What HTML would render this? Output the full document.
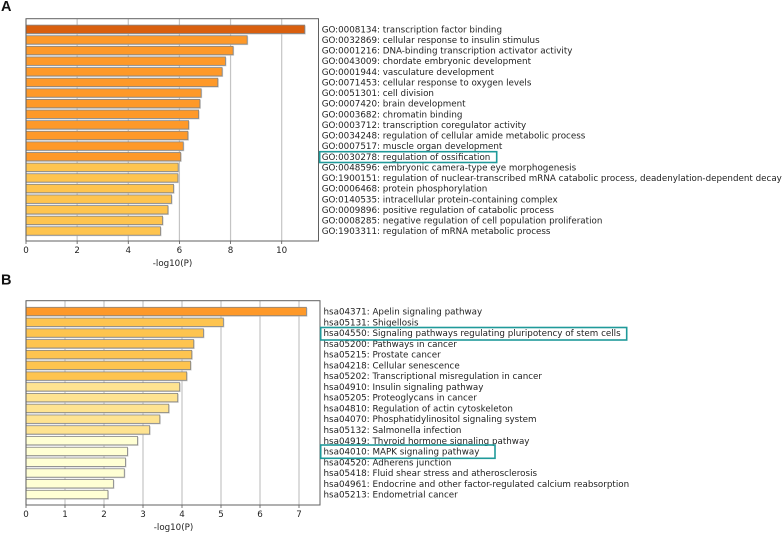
<!DOCTYPE html>
<html>
<head>
<meta charset="utf-8">
<style>
html,body{margin:0;padding:0;background:#fff;width:783px;height:533px;overflow:hidden}
svg{display:block;font-family:"DejaVu Sans","Liberation Sans",sans-serif;filter:blur(0.35px)}
svg text{fill:#222}
</style>
</head>
<body>
<svg id="chart" width="783" height="533" viewBox="0 0 783 533" xmlns="http://www.w3.org/2000/svg"></svg>
<script>
const goLabels = [
"GO:0008134: transcription factor binding",
"GO:0032869: cellular response to insulin stimulus",
"GO:0001216: DNA-binding transcription activator activity",
"GO:0043009: chordate embryonic development",
"GO:0001944: vasculature development",
"GO:0071453: cellular response to oxygen levels",
"GO:0051301: cell division",
"GO:0007420: brain development",
"GO:0003682: chromatin binding",
"GO:0003712: transcription coregulator activity",
"GO:0034248: regulation of cellular amide metabolic process",
"GO:0007517: muscle organ development",
"GO:0030278: regulation of ossification",
"GO:0048596: embryonic camera-type eye morphogenesis",
"GO:1900151: regulation of nuclear-transcribed mRNA catabolic process, deadenylation-dependent decay",
"GO:0006468: protein phosphorylation",
"GO:0140535: intracellular protein-containing complex",
"GO:0009896: positive regulation of catabolic process",
"GO:0008285: negative regulation of cell population proliferation",
"GO:1903311: regulation of mRNA metabolic process"
];
const goValues = [10.9,8.65,8.1,7.8,7.67,7.5,6.85,6.8,6.75,6.36,6.33,6.15,6.05,5.95,5.94,5.77,5.69,5.55,5.34,5.26];
const goLevels = [3,2,2,2,2,2,2,2,2,2,2,2,2,1,1,1,1,1,1,1];
const goTicks = [0,2,4,6,8,10];

const keggLabels = [
"hsa04371: Apelin signaling pathway",
"hsa05131: Shigellosis",
"hsa04550: Signaling pathways regulating pluripotency of stem cells",
"hsa05200: Pathways in cancer",
"hsa05215: Prostate cancer",
"hsa04218: Cellular senescence",
"hsa05202: Transcriptional misregulation in cancer",
"hsa04910: Insulin signaling pathway",
"hsa05205: Proteoglycans in cancer",
"hsa04810: Regulation of actin cytoskeleton",
"hsa04070: Phosphatidylinositol signaling system",
"hsa05132: Salmonella infection",
"hsa04919: Thyroid hormone signaling pathway",
"hsa04010: MAPK signaling pathway",
"hsa04520: Adherens junction",
"hsa05418: Fluid shear stress and atherosclerosis",
"hsa04961: Endocrine and other factor-regulated calcium reabsorption",
"hsa05213: Endometrial cancer"
];
const keggValues = [7.19,5.06,4.55,4.3,4.25,4.22,4.12,3.94,3.89,3.66,3.43,3.17,2.86,2.6,2.55,2.52,2.24,2.1];
const keggLevels = [2,1,1,1,1,1,1,0,0,0,0,0,-1,-1,-1,-1,-1,-1];
const keggTicks = [0,1,2,3,4,5,6,7];

const levelColors = {"3":"#d95f0e","2":"#fe9929","1":"#fec44f","0":"#fee391","-1":"#ffffd4"};
const svg = document.getElementById('chart');
const NS = 'http://www.w3.org/2000/svg';

function mk(tag, attrs, parent, text) {
  const el = document.createElementNS(NS, tag);
  for (const k in attrs) el.setAttribute(k, attrs[k]);
  if (text !== undefined) el.textContent = text;
  (parent || svg).appendChild(el);
  return el;
}

function drawPanel(cfg, labels, values, levels, ticks) {
  const g = mk('g', {}, svg);
  
  
  const xScale = v => cfg.left + v * cfg.unit;
  const yScale = i => cfg.firstY + i * (cfg.lastY - cfg.firstY) / (labels.length - 1);

  ticks.forEach(t => {
    const grid = mk('line', {x1:xScale(t), x2:xScale(t), y1:cfg.top, y2:cfg.bottom, stroke:'#c4c4c4', 'stroke-width':1.2}, g);
    
    
    const tick = mk('line', {x1:xScale(t), x2:xScale(t), y1:cfg.bottom, y2:cfg.bottom + 3, stroke:'#555', 'stroke-width':0.8}, g);
    
    
    const tl = mk('text', {x:xScale(t), y:cfg.bottom + 12, 'text-anchor':'middle', 'font-size':8.7}, g, String(t));
    
    
  });

  values.forEach((v, i) => {
    const y = yScale(i);
    const sh = mk('rect', {x:cfg.left, y:y - 3.6, width:xScale(v) - cfg.left + 1, height:8.8, fill:'#bdbdbd', opacity:0.75}, g);
    
    
    const bar = mk('rect', {x:cfg.left, y:y - 4.2, width:xScale(v) - cfg.left, height:8.4, fill:levelColors[levels[i]], stroke:'#858585', 'stroke-width':0.8}, g);
    
    
    const lab = mk('text', {x:cfg.labelX, y:y + 3.1, 'font-size':cfg.font}, g, labels[i]);
    
    
  });

  const frame = mk('rect', {x:cfg.left, y:cfg.top, width:cfg.right - cfg.left, height:cfg.bottom - cfg.top, fill:'none', stroke:'#606060', 'stroke-width':1}, g);
  
  

  const xt = mk('text', {x:cfg.titleX, y:cfg.bottom + 25, 'text-anchor':'middle', 'font-size':8.7}, g, '-log10(P)');
  
  

  const letter = mk('text', {x:1, y:cfg.letterY, 'font-size':14.5, 'font-weight':'bold', style:'fill:#111;font-family:"Liberation Sans",sans-serif'}, g, cfg.letter);
  
  

  cfg.boxes.forEach((b, i) => {
    const box = mk('rect', {x:b[0], y:b[1], width:b[2] - b[0], height:b[3] - b[1], fill:'none', stroke:'#1f9a9a', 'stroke-width':1.6}, g);
    
    
  });
}

drawPanel({name:'go', letter:'A', letterY:11, left:26, right:318.5, top:18.7, bottom:241, unit:25.57, firstY:29.3, lastY:231, labelX:321.7, font:8.74, titleX:172.5,
  boxes:[[319.7,151.7,496.7,162.5]]}, goLabels, goValues, goLevels, goTicks);
drawPanel({name:'kegg', letter:'B', letterY:284.5, left:26, right:320, top:300.7, bottom:505, unit:39, firstY:311.5, lastY:494.5, labelX:323.5, font:8.74, titleX:173.5,
  boxes:[[320.7,327.5,626.7,340],[320.7,445,495,458.3]]}, keggLabels, keggValues, keggLevels, keggTicks);
</script>
</body>
</html>
